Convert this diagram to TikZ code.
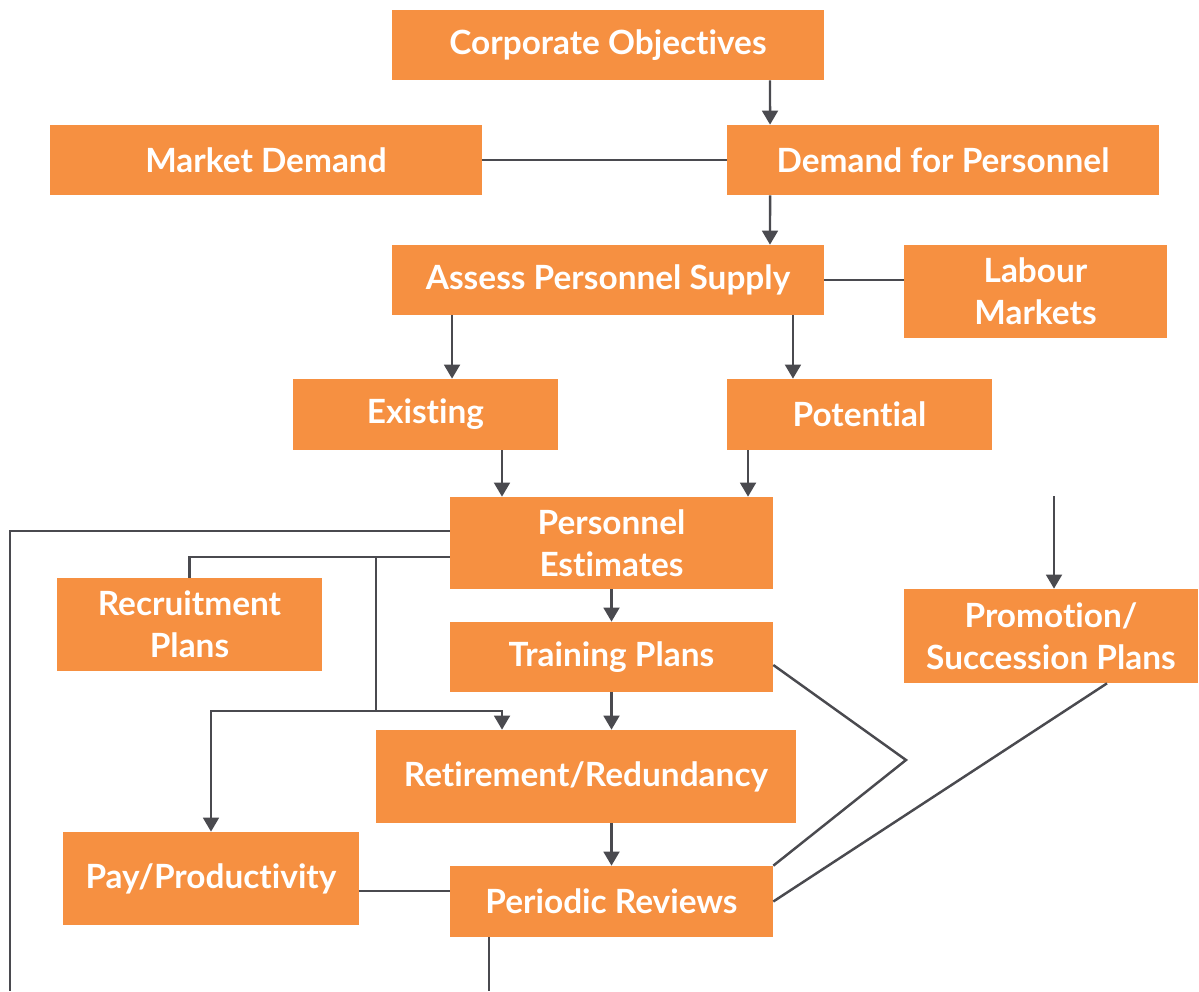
\documentclass[tikz,border=0pt]{standalone}
\usepackage{fontspec}
\setmainfont{Lato}[RawFeature=-liga, RawFeature=-dlig, RawFeature=-clig, RawFeature=-calt]
\usepackage{xcolor}
\usetikzlibrary{arrows.meta, calc, positioning}
\definecolor{planorange}{HTML}{F69041}
\definecolor{lineslate}{HTML}{4A4A4F}
\tikzset{
  % Graph line style
  garr/.style={
    draw=lineslate
    , line width = 1.4pt
  },
  % arrow version
  garrow/.style={
    garr
    , -{Triangle[width=9pt,length=8pt]}
  },
}
\tikzset{
  %plan node style
  plan/.style={
    fill=planorange
    , text=white
    , font=\bfseries\fontsize{19}{24}\selectfont
    , inner sep=0pt
    , anchor=center
    , align=center
  },
}

\begin{document}
\begin{tikzpicture}[x=0.02cm, y=-0.02cm]
      \useasboundingbox (0,0) rectangle (1199,991);

      \node[plan, minimum width=8.64cm, minimum height=1.4cm] (corp) at (608,45) {Corporate Objectives};
      \node[plan, minimum width=8.64cm, minimum height=1.4cm] (market) at (266,160) {Market Demand};
      \node[plan, minimum width=8.64cm, minimum height=1.4cm] (demand) at (943,160) {Demand for Personnel};
      \node[plan, minimum width=8.64cm, minimum height=1.4cm] (assess) at (608,280) {Assess Personnel Supply};
      \node[plan, minimum width=5.26cm, minimum height=1.86cm] (labour) at (1035.5,291.5) {Labour\\Markets};
      \node[plan, minimum width=5.3cm, minimum height=1.42cm] (existing) at (425.5,414.5) {Existing};
      \node[plan, minimum width=5.3cm, minimum height=1.42cm] (potential) at (859.5,414.5) {Potential};
      \node[plan, minimum width=6.46cm, minimum height=1.84cm] (estimates) at (611.5,543) {Personnel\\Estimates};
      \node[plan, minimum width=5.3cm, minimum height=1.86cm] (recruit) at (189.5,624.5) {Recruitment\\Plans};
      \node[plan, minimum width=6.46cm, minimum height=1.4cm] (training) at (611.5,657) {Training Plans};
      \node[plan, minimum width=5.88cm, minimum height=1.88cm] (promotion) at (1051,636) {Promotion/\\Succession Plans};
      \node[plan, minimum width=8.4cm, minimum height=1.86cm] (retire) at (586,776.5) {Retirement/Redundancy};
      \node[plan, minimum width=5.92cm, minimum height=1.86cm] (pay) at (211,878.5) {Pay/Productivity};
      \node[plan, minimum width=6.46cm, minimum height=1.42cm] (periodic) at (611.5,901.5) {Periodic Reviews};

      % free ends
      \coordinate (feedback) at (10,991);
      \coordinate (promoin) at (1054,496);
      \coordinate (split) at (376,711);
      \coordinate (kink) at (906,760);

      % top of the chart
      \draw[garrow] ([xshift=3.24cm]corp.south) -- ([xshift=-3.46cm]demand.north);
      \draw[garr] (market.east) -- (demand.west);
      \draw[garrow] ([xshift=-3.46cm]demand.south) -- ([xshift=3.24cm]assess.north);
      \draw[garr] (assess.east) -- (assess.east -| labour.west);

      \coordinate (a1) at ([xshift=-3.12cm]assess.south);
      \coordinate (a2) at ([xshift=3.7cm]assess.south);
      \draw[garrow] (a1) -- (a1 |- existing.north);
      \draw[garrow] (a2) -- (a2 |- potential.north);

      \coordinate (e1) at ([xshift=1.53cm]existing.south);
      \coordinate (p1) at ([xshift=-2.23cm]potential.south);
      \draw[garrow] (e1) -- (e1 |- estimates.north);
      \draw[garrow] (p1) -- (p1 |- estimates.north);

      % left side branches
      \draw[garr] ([yshift=0.24cm]estimates.west) -| (feedback);
      \coordinate (r1) at ([yshift=-0.28cm]estimates.west);
      \draw[garr] (r1) -| (recruit.north);
      \draw[garr] (split |- r1) -- (split);
      \draw[garrow] (split) -| ([xshift=-1.68cm]retire.north);
      \draw[garrow] (split) -| (pay.north);

      % middle column
      \draw[garrow] (estimates.south) -- (training.north);
      \draw[garrow] (training.south) -- (training.south |- retire.north);
      \draw[garrow] (periodic.north |- retire.south) -- (periodic.north);

      % right side
      \draw[garr] ([yshift=-0.16cm]training.east) -- (kink) -- (periodic.north east);
      \draw[garr] ([xshift=1.12cm]promotion.south) -- (periodic.east);
      \draw[garrow] (promoin) -- (promoin |- promotion.north);

      % bottom
      \draw[garr] ([yshift=-0.25cm]pay.east) -- ([yshift=-0.25cm]pay.east -| periodic.west);
      \coordinate (pb) at ([xshift=-2.45cm]periodic.south);
      \draw[garr] (pb) -- (pb |- feedback);
    \end{tikzpicture}
\end{document}
